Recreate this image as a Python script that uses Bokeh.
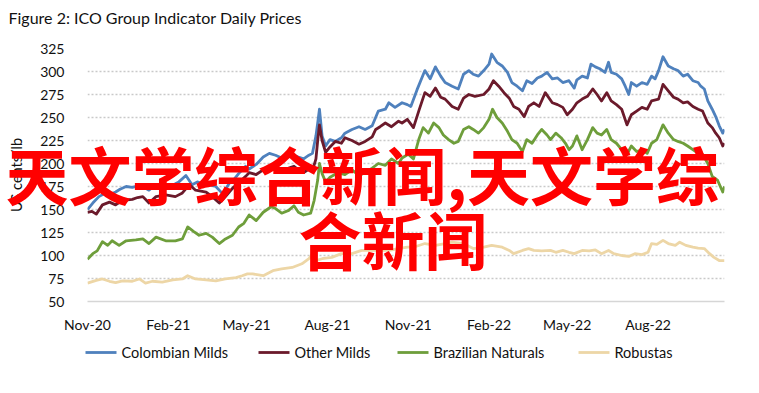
import pandas as pd
from bokeh.plotting import figure
from bokeh.models import (Range1d, FixedTicker, DatetimeTickFormatter, ColumnDataSource)
from bokeh.embed import file_html
from bokeh.resources import INLINE
from bokeh.core.properties import value

# ---------------- data (US cents/lb) ----------------
cm_dates = ["2020-11-01","2020-11-07","2020-11-14","2020-11-20","2020-11-26","2020-12-03","2020-12-08","2020-12-15","2020-12-22","2020-12-30",
            "2021-01-03","2021-01-10","2021-01-16","2021-01-22","2021-01-27","2021-02-02","2021-02-09","2021-02-13","2021-02-21","2021-02-28",
            "2021-03-06","2021-03-12","2021-03-19","2021-03-27","2021-04-04","2021-04-11","2021-04-17","2021-04-22","2021-04-30","2021-05-04",
            "2021-05-12","2021-05-20","2021-05-27","2021-06-03","2021-06-10","2021-06-18","2021-06-24","2021-06-29","2021-07-05","2021-07-11",
            "2021-07-15","2021-07-19","2021-07-21","2021-07-23","2021-07-26","2021-07-30","2021-08-04","2021-08-10","2021-08-17","2021-08-21",
            "2021-08-29","2021-09-06","2021-09-13","2021-09-21","2021-09-28","2021-10-06","2021-10-10","2021-10-17","2021-10-25","2021-10-31",
            "2021-11-04","2021-11-11","2021-11-20","2021-11-26","2021-12-02","2021-12-08","2021-12-13","2021-12-21","2021-12-28","2022-01-03",
            "2022-01-09","2022-01-14","2022-01-20","2022-01-26","2022-02-01","2022-02-04","2022-02-10","2022-02-16","2022-02-22","2022-02-27",
            "2022-03-05","2022-03-11","2022-03-16","2022-03-22","2022-03-28","2022-04-02","2022-04-08","2022-04-14","2022-04-20","2022-04-26",
            "2022-05-03","2022-05-09","2022-05-12","2022-05-18","2022-05-24","2022-05-28","2022-06-02","2022-06-07","2022-06-13","2022-06-17",
            "2022-06-20","2022-06-26","2022-07-02","2022-07-06","2022-07-10","2022-07-13","2022-07-19","2022-07-25","2022-07-31","2022-08-05",
            "2022-08-09","2022-08-13","2022-08-18","2022-08-24","2022-08-30","2022-09-04","2022-09-10","2022-09-15","2022-09-21","2022-09-27",
            "2022-09-30","2022-10-04","2022-10-08","2022-10-13","2022-10-17","2022-10-21","2022-10-25","2022-10-27"]
cm_values = [150,157,164,167,166,169,172,175,174,176,
             175,171,176,177,173,175,178,180,187,177,
             180,178,177,175,167,178,183,189,197,194,
             199,207,211,209,206,211,209,207,205,209,
             211,230,244,259,230,219,226,224,228,233,
             237,240,237,241,257,259,266,261,266,264,
             262,280,301,292,305,295,288,284,281,297,
             301,297,295,301,308,319,310,306,299,288,
             284,279,290,287,293,295,299,292,293,288,
             290,282,291,295,293,308,305,303,299,310,
             299,297,292,284,275,288,284,288,286,295,
             292,301,316,306,303,301,295,297,290,288,
             284,281,268,259,251,241,233,237]

om_dates = ["2020-11-01","2020-11-06","2020-11-11","2020-11-18","2020-11-26","2020-12-03","2020-12-11","2020-12-22","2020-12-28","2021-01-03",
            "2021-01-10","2021-01-18","2021-01-29","2021-02-09","2021-02-17","2021-02-25","2021-03-04","2021-03-16","2021-03-23","2021-03-31",
            "2021-04-07","2021-04-15","2021-04-22","2021-04-30","2021-05-04","2021-05-12","2021-05-20","2021-05-27","2021-06-03","2021-06-10",
            "2021-06-18","2021-06-24","2021-06-29","2021-07-05","2021-07-11","2021-07-15","2021-07-19","2021-07-21","2021-07-23","2021-07-26",
            "2021-07-30","2021-08-04","2021-08-10","2021-08-17","2021-08-21","2021-08-29","2021-09-06","2021-09-13","2021-09-21","2021-09-25",
            "2021-09-30","2021-10-06","2021-10-13","2021-10-21","2021-10-25","2021-10-31","2021-11-07","2021-11-13","2021-11-20","2021-11-26",
            "2021-12-02","2021-12-08","2021-12-13","2021-12-21","2021-12-28","2022-01-03","2022-01-09","2022-01-16","2022-01-26","2022-02-01",
            "2022-02-06","2022-02-12","2022-02-18","2022-02-24","2022-03-01","2022-03-07","2022-03-13","2022-03-18","2022-03-24","2022-03-30",
            "2022-04-06","2022-04-14","2022-04-20","2022-04-26","2022-05-01","2022-05-07","2022-05-12","2022-05-18","2022-05-24","2022-05-30",
            "2022-06-04","2022-06-09","2022-06-15","2022-06-20","2022-06-26","2022-07-02","2022-07-08","2022-07-13","2022-07-19","2022-07-25",
            "2022-07-31","2022-08-05","2022-08-13","2022-08-18","2022-08-24","2022-08-30","2022-09-04","2022-09-10","2022-09-15","2022-09-21",
            "2022-09-27","2022-10-02","2022-10-08","2022-10-13","2022-10-17","2022-10-21","2022-10-25","2022-10-27"]
om_values = [147,148,145,155,158,155,160,161,163,164,
             157,164,166,164,168,177,171,169,164,157,
             164,173,179,186,190,188,193,196,194,190,
             195,197,193,190,194,192,205,225,242,225,
             212,218,224,222,228,225,221,224,229,237,
             240,244,240,246,244,248,239,257,277,273,
             282,272,270,262,259,271,275,273,275,281,
             290,284,277,271,262,259,251,262,266,262,
             277,266,264,261,253,259,266,270,273,281,
             275,268,277,268,264,259,242,253,257,261,
             259,268,270,286,279,272,270,266,267,262,
             259,257,244,239,233,228,219,222]

bn_dates = ["2020-11-01","2020-11-07","2020-11-12","2020-11-18","2020-11-24","2020-11-29","2020-12-07","2020-12-15","2020-12-26","2021-01-03",
            "2021-01-10","2021-01-18","2021-01-29","2021-02-09","2021-02-17","2021-02-23","2021-03-02","2021-03-08","2021-03-16","2021-03-23",
            "2021-03-31","2021-04-07","2021-04-15","2021-04-22","2021-04-28","2021-05-04","2021-05-12","2021-05-20","2021-05-29","2021-06-03",
            "2021-06-10","2021-06-18","2021-06-24","2021-06-29","2021-07-05","2021-07-13","2021-07-17","2021-07-21","2021-07-23","2021-07-26",
            "2021-07-30","2021-08-04","2021-08-13","2021-08-21","2021-08-29","2021-09-06","2021-09-13","2021-09-21","2021-09-28","2021-10-06",
            "2021-10-13","2021-10-21","2021-10-25","2021-11-01","2021-11-07","2021-11-13","2021-11-18","2021-11-24","2021-11-30","2021-12-06",
            "2021-12-11","2021-12-17","2021-12-23","2021-12-28","2022-01-03","2022-01-09","2022-01-14","2022-01-20","2022-01-26","2022-02-01",
            "2022-02-05","2022-02-10","2022-02-16","2022-02-22","2022-02-27","2022-03-05","2022-03-11","2022-03-16","2022-03-22","2022-03-28",
            "2022-04-02","2022-04-08","2022-04-12","2022-04-18","2022-04-24","2022-04-29","2022-05-03","2022-05-07","2022-05-12","2022-05-18",
            "2022-05-24","2022-05-30","2022-06-04","2022-06-09","2022-06-15","2022-06-20","2022-06-26","2022-07-02","2022-07-08","2022-07-13",
            "2022-07-19","2022-07-25","2022-07-31","2022-08-05","2022-08-11","2022-08-18","2022-08-24","2022-08-30","2022-09-04","2022-09-10",
            "2022-09-15","2022-09-21","2022-09-27","2022-10-02","2022-10-08","2022-10-13","2022-10-19","2022-10-25","2022-10-27"]
bn_values = [96,102,105,115,111,116,111,116,117,118,
             113,120,116,116,118,131,126,122,124,120,
             113,118,122,131,135,144,138,147,153,151,
             146,149,154,147,144,146,160,182,200,189,
             180,185,190,188,193,187,190,195,200,198,
             205,200,206,210,205,226,239,233,244,239,
             231,226,222,224,237,240,237,233,239,248,
             259,250,244,235,226,222,213,226,222,231,
             237,231,226,233,228,222,215,219,230,215,
             226,239,233,231,237,226,222,215,210,219,
             213,215,211,222,226,242,233,226,224,222,
             219,215,211,210,200,186,182,169,175]

rb_dates = ["2020-11-01","2020-11-11","2020-11-18","2020-11-26","2020-12-03","2020-12-11","2020-12-22","2020-12-30","2021-01-06","2021-01-14",
            "2021-01-25","2021-02-06","2021-02-17","2021-02-23","2021-03-04","2021-03-16","2021-03-27","2021-04-07","2021-04-19","2021-04-26",
            "2021-05-02","2021-05-08","2021-05-20","2021-05-31","2021-06-10","2021-06-22","2021-07-03","2021-07-11","2021-07-15","2021-07-19",
            "2021-07-26","2021-08-06","2021-08-17","2021-08-29","2021-09-09","2021-09-25","2021-10-10","2021-10-21","2021-10-31","2021-11-07",
            "2021-11-20","2021-12-02","2021-12-13","2021-12-21","2022-01-03","2022-01-14","2022-01-26","2022-02-04","2022-02-16","2022-02-24",
            "2022-03-01","2022-03-11","2022-03-18","2022-03-24","2022-04-02","2022-04-12","2022-04-18","2022-04-26","2022-05-03","2022-05-09",
            "2022-05-18","2022-05-26","2022-06-02","2022-06-09","2022-06-17","2022-06-23","2022-07-02","2022-07-10","2022-07-17","2022-07-25",
            "2022-08-01","2022-08-05","2022-08-11","2022-08-18","2022-08-24","2022-09-01","2022-09-06","2022-09-13","2022-09-21","2022-09-27",
            "2022-10-04","2022-10-10","2022-10-15","2022-10-21","2022-10-27"]
rb_values = [70,73,74.5,72,70.5,72.5,72,74.5,70,72,
             71,73.5,74.5,78,74.5,73.5,72.5,74.5,76,78,
             80,80,78,83.5,85.5,87,91,96.5,102,94.5,
             96.5,98,102,102,105.5,105.5,105.5,107.5,109,109,
             113,111,113,114.5,113,107.5,109,111,109,105.5,
             102,105.5,107.5,105.5,105,105.5,103.5,105.5,103.5,102,
             105.5,105,106,102,105.5,102,100,99,102,101,
             103.5,113,112,116.5,113,111,114.5,111,109,108,
             107.5,102,98,94.5,94.5]

series_names = ["Colombian Milds", "Other Milds", "Brazilian Naturals", "Robustas"]
series_colors = ["#4F81BD", "#6B1A2B", "#6E9E3B", "#EDD6A6"]

x_tick_dates = ["2020-11-01", "2021-02-01", "2021-05-01", "2021-08-01",
                "2021-11-01", "2022-02-01", "2022-05-01", "2022-08-01"]
x_tick_labels = ["Nov-20", "Feb-21", "May-21", "Aug-21", "Nov-21", "Feb-22", "May-22", "Aug-22"]
y_ticks = [50, 75, 100, 125, 150, 175, 200, 225, 250, 275, 300, 325]

title_text = "Figure 2: ICO Group Indicator Daily Prices"
y_label = "US cents/lb"
overlay_lines = ["天文学综合新闻,天文学综", "合新闻"]

FONT = "Lato"
X_START, X_END = pd.Timestamp("2020-11-01"), pd.Timestamp("2022-10-27")
Y_START, Y_END = 50, 325

# ---------------- layout (pixels) ----------------
W, H = 756, 391
B_LEFT, B_RIGHT, B_TOP, B_BOTTOM = 87, 32, 48, 90
FRAME_W = W - B_LEFT - B_RIGHT
FRAME_H = H - B_TOP - B_BOTTOM

def frame_px_to_data(dx, dy):
    """pixel offset from the frame's lower-left corner (y up) -> data coords"""
    span = (X_END - X_START)
    return X_START + span * (dx / FRAME_W), Y_START + (Y_END - Y_START) * (dy / FRAME_H)

# ---------------- figure ----------------
p = figure(width=W, height=H, x_axis_type="datetime", title=None,
           x_range=Range1d(X_START, X_END), y_range=Range1d(Y_START, Y_END),
           output_backend="svg", toolbar_location=None,
           min_border_left=B_LEFT, min_border_right=B_RIGHT,
           min_border_top=B_TOP, min_border_bottom=B_BOTTOM)
p.styles = {"outline": "2px solid #595959", "outline-offset": "-4px"}
p.outline_line_color = None
p.background_fill_color = "white"
p.border_fill_color = "white"

renderers = []
for d, v, c in [(cm_dates, cm_values, series_colors[0]),
                (om_dates, om_values, series_colors[1]),
                (bn_dates, bn_values, series_colors[2]),
                (rb_dates, rb_values, series_colors[3])]:
    r = p.line(pd.to_datetime(d), v, line_color=c, line_width=2.8, line_join="round")
    renderers.append(r)

# axes
tick_ms = [pd.Timestamp(t).value // 10**6 for t in x_tick_dates]
p.xaxis.ticker = FixedTicker(ticks=tick_ms)
p.xaxis.major_label_overrides = {ms: lab for ms, lab in zip(tick_ms, x_tick_labels)}
p.xaxis.formatter = DatetimeTickFormatter(days="%b-%y", months="%b-%y", years="%b-%y")
p.yaxis.ticker = FixedTicker(ticks=y_ticks)

for ax in (p.xaxis[0], p.yaxis[0]):
    ax.major_tick_line_color = None
    ax.minor_tick_line_color = None
    ax.major_label_text_font = FONT
    ax.major_label_text_font_size = "14px"
    ax.major_label_text_color = "#111111"
p.xaxis.axis_line_color = "#D6D6D6"
p.xaxis.axis_line_width = 1.5
p.xaxis.major_label_standoff = 8
p.yaxis.axis_line_color = None
p.yaxis.major_label_standoff = 17
p.yaxis.axis_label = y_label
p.yaxis.axis_label_text_font = FONT
p.yaxis.axis_label_text_font_size = "14.5px"
p.yaxis.axis_label_text_font_style = "normal"
p.yaxis.axis_label_text_color = "#111111"
p.yaxis.axis_label_standoff = 12

p.xgrid.grid_line_color = None
p.ygrid.grid_line_color = "#C9C9C9"
p.ygrid.grid_line_width = 1.4
p.ygrid.grid_line_dash = "2 2"

# title text (overlay level, placed relative to the frame corner)
tx, ty = frame_px_to_data(-79, 284)
p.text(x=[tx], y=[ty], text=[title_text], text_font=value(FONT), text_font_size="16px",
       text_color="#111111", text_baseline="middle", text_align="left", level="overlay")

# legend below the axis (drawn on the overlay level so it is not clipped to the frame)
leg_sample_dx = [-2, 171, 310, 491]     # sample start, px from frame left
LEG_DY = -51                              # px below frame bottom
LEG_SAMPLE_LEN, LEG_GAP = 31, 5
x0s, x1s, ys, lxs = [], [], [], []
for dx in leg_sample_dx:
    xa, ya = frame_px_to_data(dx, LEG_DY)
    xb, _ = frame_px_to_data(dx + LEG_SAMPLE_LEN, LEG_DY)
    xl, _ = frame_px_to_data(dx + LEG_SAMPLE_LEN + LEG_GAP, LEG_DY)
    x0s.append(xa); x1s.append(xb); ys.append(ya); lxs.append(xl)
leg_src = ColumnDataSource(dict(x0=x0s, x1=x1s, y=ys, lx=lxs,
                                c=series_colors, t=series_names))
p.segment(x0="x0", y0="y", x1="x1", y1="y", line_color="c", line_width=2.8,
          source=leg_src, level="overlay")
p.text(x="lx", y="y", text="t", source=leg_src, text_font=value(FONT),
       text_font_size="14.5px", text_color="#111111", text_baseline="middle",
       text_align="left", level="overlay")

# red overlay text, anchored at the frame's lower-left corner and offset in pixels
ov = ColumnDataSource(dict(x=[X_START, X_START], y=[Y_START, Y_START], t=overlay_lines,
                           dx=[-82, 211], dy=[-129, -64]))
p.text(x="x", y="y", text="t", x_offset="dx", y_offset="dy", source=ov,
       text_font=value("Noto Sans CJK SC"), text_font_size="63px",
       text_font_style="bold", text_color="#FF0000",
       text_baseline="middle", text_align="left", level="overlay")

open("out.html", "w").write(file_html(p, INLINE))
